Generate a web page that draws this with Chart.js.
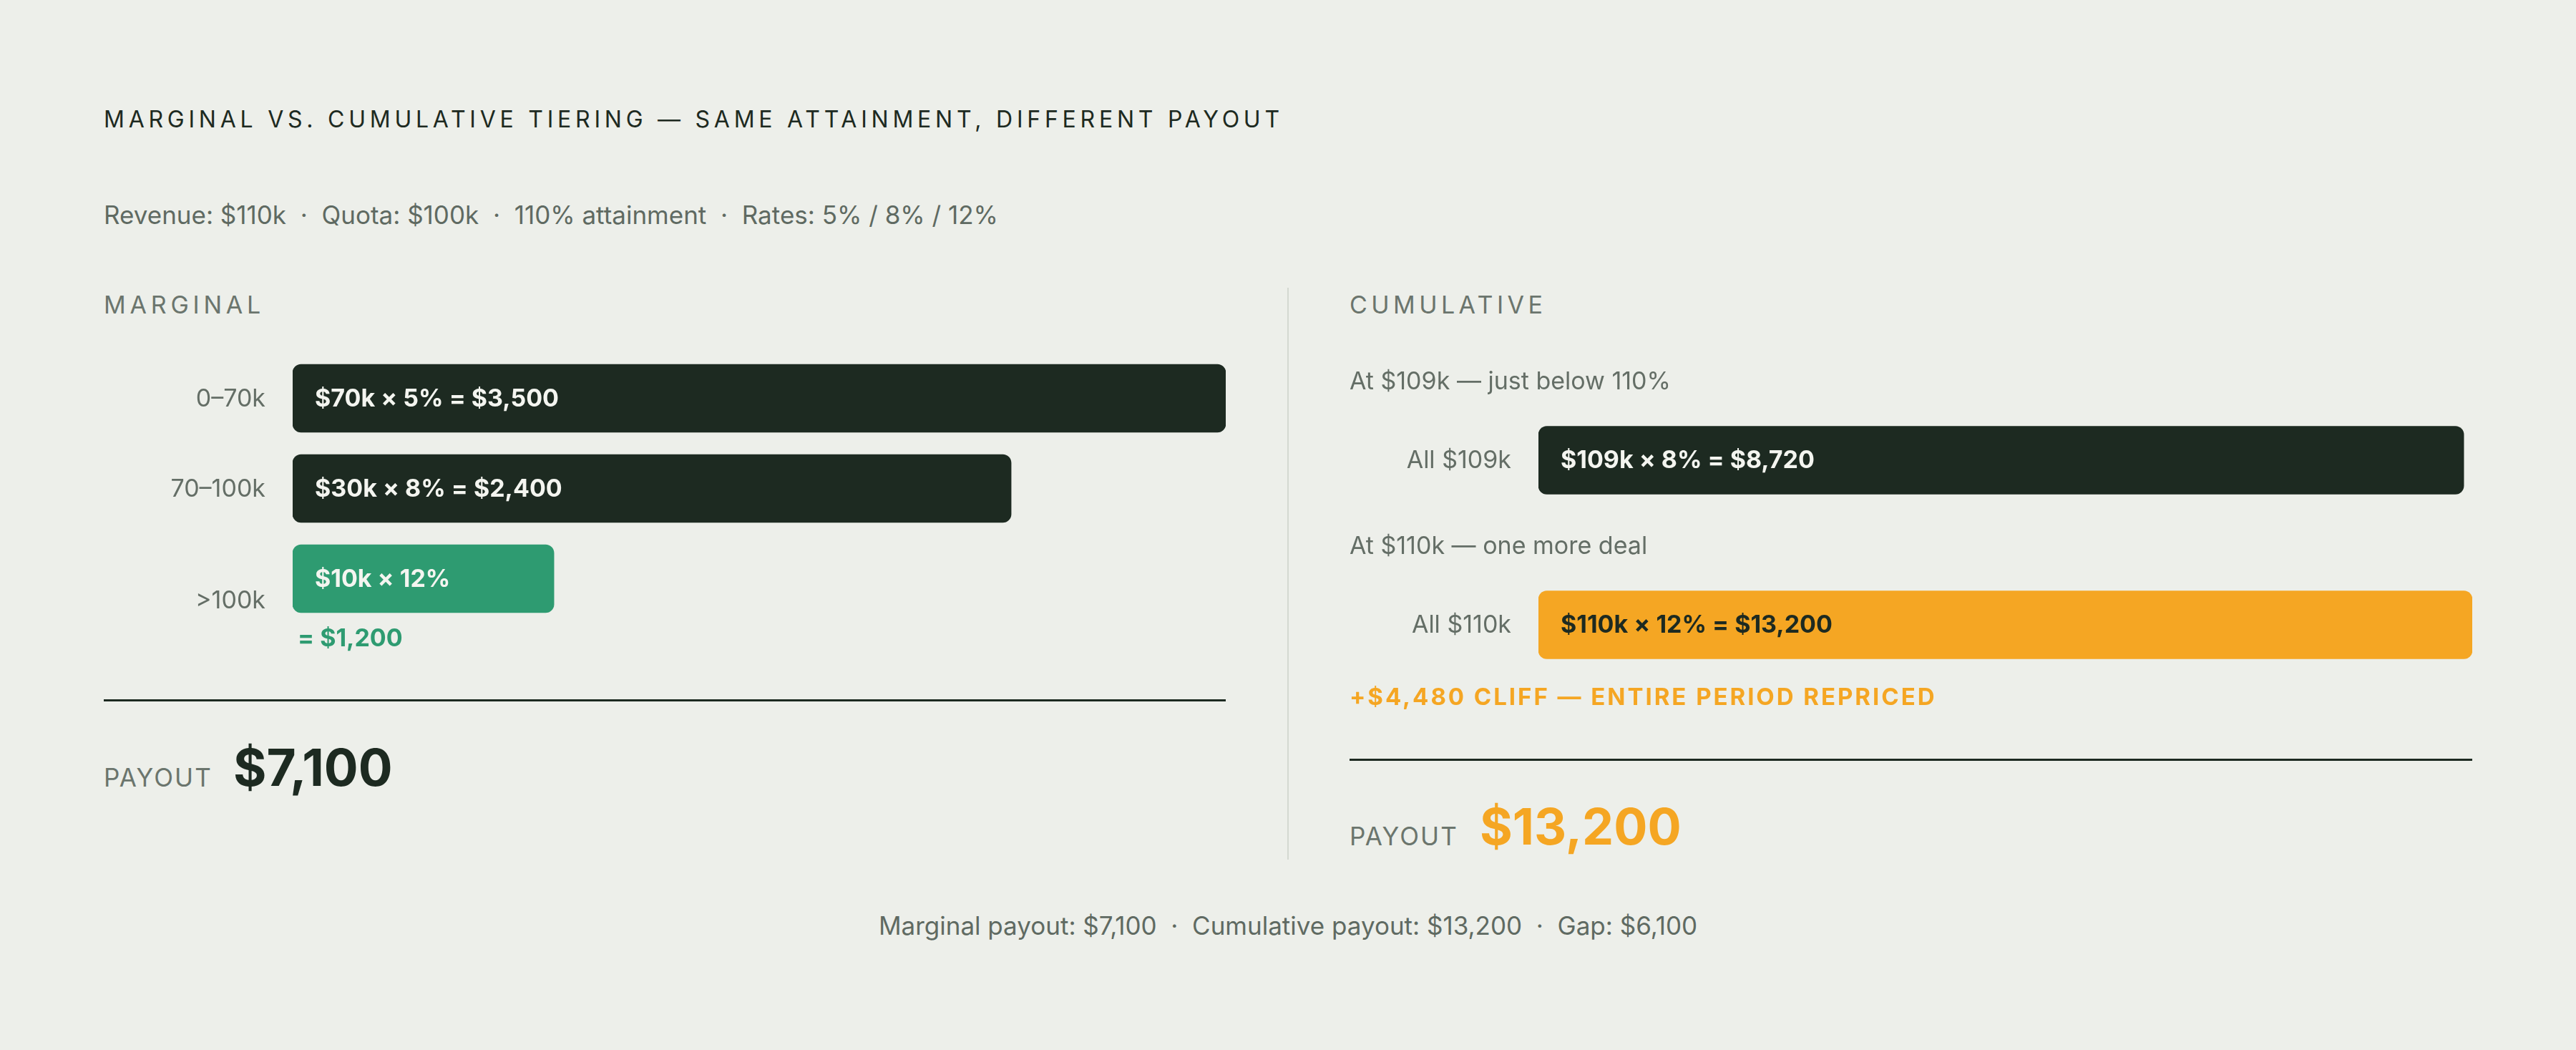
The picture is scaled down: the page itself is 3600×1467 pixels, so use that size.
<!DOCTYPE html>
<html>
<head>
<meta charset="utf-8">
<script src="https://cdn.jsdelivr.net/npm/chart.js@4.4.1/dist/chart.umd.min.js"></script>
<style>
  html, body { margin: 0; padding: 0; background: #edefea; }
  body { width: 3600px; height: 1467px; position: relative; overflow: hidden; font-family: Inter, "Noto Sans", sans-serif; }
  .t { position: absolute; white-space: pre; line-height: 1; }
  .caps { text-transform: uppercase; }
  .rule { position: absolute; background: #1d2a21; height: 3px; }
  canvas { position: absolute; }
</style>
</head>
<body>

<div class="t caps" style="left:145px; top:151px; font-size:32px; letter-spacing:0.18em; color:#1d2a21;">Marginal vs. cumulative tiering — same attainment, different payout</div>
<div class="t" style="left:145px; top:283px; font-size:35px; color:#5f6a62;">Revenue: $110k  ·  Quota: $100k  ·  110% attainment  ·  Rates: 5% / 8% / 12%</div>

<div class="t caps" style="left:145px; top:409px; font-size:34px; letter-spacing:0.17em; color:#6b756d;">Marginal</div>
<div class="t caps" style="left:1886px; top:409px; font-size:34px; letter-spacing:0.16em; color:#6b756d;">Cumulative</div>

<div style="position:absolute; left:1799px; top:402px; width:2px; height:799px; background:#d4d8d1;"></div>

<canvas id="chartMarginal" width="1568" height="430" style="left:145px; top:490px;"></canvas>
<canvas id="chartCumulative" width="1569" height="520" style="left:1886px; top:500px;"></canvas>

<div class="t caps" style="left:1886px; top:957px; font-size:33px; font-weight:700; letter-spacing:0.09em; color:#f5a623;">+$4,480 cliff — entire period repriced</div>

<div class="rule" style="left:145px; top:977px; width:1568px;"></div>
<div class="rule" style="left:1886px; top:1060px; width:1569px;"></div>

<div class="t caps" style="left:145px; top:1069px; font-size:35px; letter-spacing:0.06em; color:#6b756d;">Payout</div>
<div class="t" id="payMarginal" style="left:326px; top:1037px; font-size:71px; font-weight:700; color:#1d2a21;"></div>
<div class="t caps" style="left:1886px; top:1151px; font-size:35px; letter-spacing:0.06em; color:#6b756d;">Payout</div>
<div class="t" id="payCumulative" style="left:2068px; top:1120px; font-size:70px; font-weight:700; color:#f5a623;"></div>

<div class="t" id="footer" style="left:0; width:3600px; text-align:center; top:1276px; font-size:35px; color:#5f6a62;"></div>

<script>
// marginal: each slice of revenue paid at its own rate
const marginalTiers = ['0–70k', '70–100k', '>100k'];
const marginalBarLen = [100, 77, 28]; // bar length as drawn, % of the track
const marginalBarText = ['$70k × 5% = $3,500', '$30k × 8% = $2,400', '$10k × 12%'];
const marginalNotes = ['', '', '= $1,200'];

// cumulative: whole period paid at the top rate reached
const cumulativeTiers = ['All $109k', 'All $110k'];
const cumulativeRevenue = [109, 110]; // $k
const cumulativeBarText = ['$109k × 8% = $8,720', '$110k × 12% = $13,200'];
const cumulativeHeads = ['At $109k — just below 110%', 'At $110k — one more deal'];

const payouts = { marginal: '$7,100', cumulative: '$13,200', gap: '$6,100' };

document.getElementById('payMarginal').textContent = payouts.marginal;
document.getElementById('payCumulative').textContent = payouts.cumulative;
document.getElementById('footer').textContent =
    `Marginal payout: ${payouts.marginal}  ·  Cumulative payout: ${payouts.cumulative}  ·  Gap: ${payouts.gap}`;

const DARK = '#1d2a21';
const GREEN = '#2e9b71';
const ORANGE = '#f5a623';
const GREY = '#646e66';
const FONT = 'Inter, "Noto Sans", sans-serif';

// draws tier labels, text inside bars and notes round them
const barLabels = {
    id: 'barLabels',
    afterDatasetsDraw(chart, args, opts) {
        const { ctx, chartArea } = chart;
        const meta = chart.getDatasetMeta(0);
        ctx.save();
        meta.data.forEach((bar, i) => {
            const { y, base, height } = bar.getProps(['y', 'base', 'height'], true);

            // tier label on the left
            ctx.font = `400 34px ${FONT}`;
            ctx.fillStyle = GREY;
            ctx.textAlign = 'right';
            ctx.textBaseline = 'alphabetic';
            ctx.fillText(opts.tiers[i], chartArea.left - 38, y + 11 + (opts.labelDrop[i] || 0));

            // text inside bar
            ctx.textAlign = 'left';
            ctx.font = `700 34px ${FONT}`;
            ctx.fillStyle = opts.textColor[i];
            ctx.fillText(opts.text[i], base + 31, y + 11);

            // note under the bar
            if (opts.notes && opts.notes[i]) {
                ctx.fillStyle = opts.noteColor;
                ctx.fillText(opts.notes[i], base + 7, y + height / 2 + 47);
            }

            // header above the bar
            if (opts.heads && opts.heads[i]) {
                ctx.font = `400 34px ${FONT}`;
                ctx.fillStyle = GREY;
                ctx.fillText(opts.heads[i], chartArea.left - 264, y - height / 2 - 52);
            }
        });
        ctx.restore();
    }
};

const baseOptions = (max, pad) => ({
    indexAxis: 'y',
    responsive: false,
    animation: false,
    layout: { padding: pad },
    scales: {
        x: { display: false, min: 0, max: max },
        y: { display: false }
    },
    plugins: {
        legend: { display: false },
        tooltip: { enabled: false }
    }
});

const optMarginal = baseOptions(100, { left: 264, right: 0, top: 3.5, bottom: 48.5 });
optMarginal.plugins.barLabels = {
    tiers: marginalTiers,
    text: marginalBarText,
    textColor: ['#f4f5f0', '#f4f5f0', '#f4f5f0'],
    labelDrop: [0, 0, 30],
    notes: marginalNotes,
    noteColor: GREEN
};

new Chart(document.getElementById('chartMarginal'), {
    type: 'bar',
    data: {
        labels: marginalTiers,
        datasets: [{
            data: marginalBarLen,
            backgroundColor: [DARK, DARK, GREEN],
            borderRadius: 12,
            borderSkipped: false,
            barThickness: 95
        }]
    },
    options: optMarginal,
    plugins: [barLabels]
});

const optCumulative = baseOptions(110, { left: 264, right: 0, top: 28, bottom: 32 });
optCumulative.plugins.barLabels = {
    tiers: cumulativeTiers,
    text: cumulativeBarText,
    textColor: ['#f4f5f0', DARK],
    labelDrop: [0, 0],
    heads: cumulativeHeads
};

new Chart(document.getElementById('chartCumulative'), {
    type: 'bar',
    data: {
        labels: cumulativeTiers,
        datasets: [{
            data: cumulativeRevenue,
            backgroundColor: [DARK, ORANGE],
            borderRadius: 12,
            borderSkipped: false,
            barThickness: 95
        }]
    },
    options: optCumulative,
    plugins: [barLabels]
});
</script>
</body>
</html>
